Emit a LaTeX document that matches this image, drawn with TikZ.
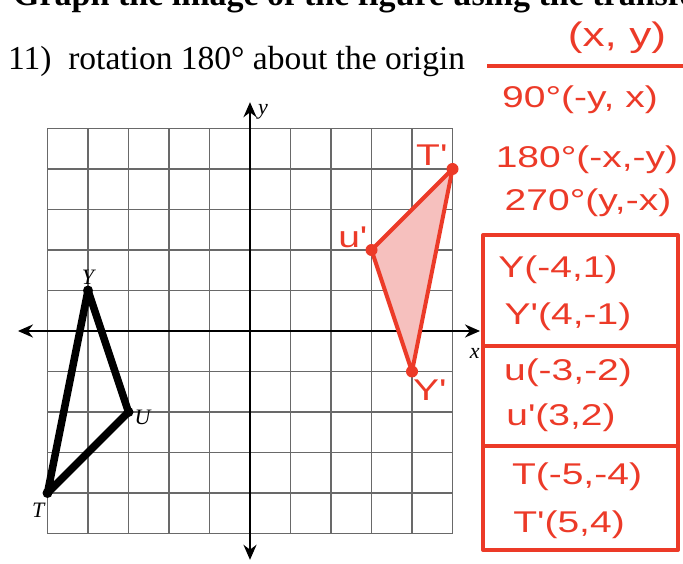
\documentclass[tikz,border=0pt]{standalone}
\usepackage{fontspec}
\setmainfont{Liberation Serif}
\newfontfamily\handfont[FakeStretch=1.3]{Liberation Sans}
\usetikzlibrary{
	arrows.meta,
	calc,
	positioning
}
\definecolor{PenRed}{RGB}{236,58,40}
\definecolor{ShadePink}{RGB}{246,192,190}
\definecolor{GridGray}{RGB}{105,105,105}

\begin{document}
\begin{tikzpicture}[x=1pt, y=1pt,
		pen/.style={PenRed, line width=4pt, line cap=round, line join=round},
		hand/.style={PenRed, inner sep=0pt, font=\handfont\fontsize{30}{32}\selectfont},
		axisline/.style={line width=2.4pt, {Stealth[length=15pt, width=13pt]}-{Stealth[length=15pt, width=13pt]}},
		lbl/.style={inner sep=0pt, font=\itshape\fontsize{22}{24}\selectfont}
	]
	\useasboundingbox (0,0) rectangle (683,563);
	\clip (0,0) rectangle (683,563);
	
	% 题目
	\node[anchor=base west, inner sep=0pt, font=\bfseries\fontsize{34}{38}\selectfont] (title) at (13,557) {Graph the image of the figure using the transformation given.};
	\node[anchor=base west, inner sep=0pt, font=\fontsize{33.5}{38}\selectfont] (task) at (8,493) {11)\ \ rotation 180° about the origin};
	
	% 坐标网格
	\begin{scope}[shift={(250,232)}, x=40.5pt, y=40.5pt]
		\draw[GridGray, line width=1.6pt, step=1] (-5,-5) grid (5,5);
		\draw[axisline] (-5.73,0) -- (5.68,0);
		\draw[axisline] (0,-5.65) -- (0,5.65);
		\node[lbl] (xlab) at (5.55,-0.55) {x};
		\node[lbl] (ylab) at (0.32,5.42) {y};
		
		% 原三角形 TUY
		\coordinate (T) at (-5,-4);
		\coordinate (U) at (-3,-2);
		\coordinate (Y) at (-4,1);
		\draw[line width=7.5pt, line join=round] (T) -- (Y) -- (U) -- cycle;
		\fill (T) circle (5pt) node[lbl, below left=10pt and 3pt] {T};
		\fill (U) circle (5pt) node[lbl, below right=-2pt and 6pt] {U};
		\fill (Y) circle (5pt) node[lbl, above=6pt] {Y};
		
		% 旋转 180° 后的像
		\coordinate (Tp) at (5,4);
		\coordinate (Up) at (3,2);
		\coordinate (Yp) at (4,-1);
		\fill[ShadePink] (Tp) -- (Up) -- (Yp) -- cycle;
		\draw[pen] (Tp) -- (Up) -- (Yp) -- cycle;
		\fill[PenRed] (Tp) circle (6pt);
		\fill[PenRed] (Up) circle (6pt);
		\fill[PenRed] (Yp) circle (6pt);
		\node[hand] (TpLab) at (4.49,4.35) {T'};
		\node[hand] (UpLab) at (2.54,2.32) {u'};
		\node[hand] (YpLab) at (4.44,-1.46) {Y'};
	\end{scope}
	
	% 旋转规则
	\node[hand, font=\handfont\fontsize{34}{36}\selectfont] (rule0) at (617,525) {(x, y)};
	\draw[pen, line cap=butt] (487,497) -- (683,497);
	\node[hand] (rule90) at (580,463) {90°(-y, x)};
	\node[hand] (rule180) at (587,403) {180°(-x,-y)};
	\node[hand] (rule270) at (588,360) {270°(y,-x)};
	
	% 坐标表
	\coordinate (boxSW) at (483,13);
	\coordinate (boxNE) at (678,328);
	\draw[pen] (boxSW) rectangle (boxNE);
	\draw[pen] (483,217) -- (678,217);
	\draw[pen] (483,117) -- (678,117);
	\node[hand] (pY) at (558,293) {Y(-4,1)};
	\node[hand] (pYp) at (568,246) {Y'(4,-1)};
	\node[hand] (pU) at (568,190) {u(-3,-2)};
	\node[hand] (pUp) at (561,145) {u'(3,2)};
	\node[hand] (pT) at (577,86) {T(-5,-4)};
	\node[hand] (pTp) at (569,38) {T'(5,4)};
\end{tikzpicture}
\end{document}
